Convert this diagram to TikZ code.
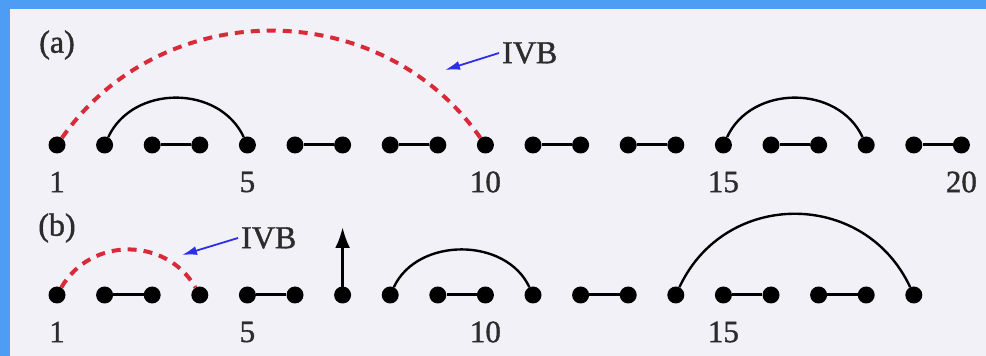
\documentclass[tikz,border=0pt]{standalone}
\usepackage{fontspec}
\setmainfont{Liberation Serif}
\newfontfamily\heavyserif[FakeBold=1.2]{Liberation Serif}
\usetikzlibrary{arrows.meta}
\definecolor{bgc}{HTML}{F3F1F8}
\definecolor{framec}{HTML}{4C9DF3}
\definecolor{ivbred}{HTML}{D92A3A}
\definecolor{ivbblue}{HTML}{2E2EEA}
\definecolor{txt}{HTML}{2C2C2C}
\tikzset{
  dot/.style={circle,fill=black,inner sep=0pt,minimum size=17pt},
  pairline/.style={line width=3pt},
  arcline/.style={line width=2.4pt},
  ivbarc/.style={ivbred,line width=4pt,dash pattern=on 9pt off 7pt},
  ivbarrow/.style={ivbblue,line width=1.8pt,-{Latex[length=15pt,width=9pt]}},
  uparrow/.style={line width=3pt,-{Latex[length=21pt,width=15pt]}},
  num/.style={text=txt,font=\heavyserif\fontsize{31}{33}\selectfont,inner sep=0pt},
  lbl/.style={text=txt,font=\heavyserif\fontsize{32}{34}\selectfont,inner sep=0pt}
}
\begin{document}
\begin{tikzpicture}[x=1pt,y=1pt]
\fill[bgc] (0,0) rectangle (986,356);
\fill[framec] (0,347) rectangle (986,356);
\fill[framec] (0,0) rectangle (10,356);
\useasboundingbox (0,0) rectangle (986,356);
% row (a)
\foreach \i in {1,...,20} \node[dot] (a\i) at ({57+(\i-1)*47.6},211) {};
\foreach \p/\q in {3/4,6/7,8/9,11/12,13/14,16/17,19/20} \draw[pairline] (a\p) -- (a\q);
\draw[arcline] (a2) to[out=65,in=115,looseness=1.1] (a5);
\draw[arcline] (a15) to[out=65,in=115,looseness=1.1] (a18);
\draw[ivbarc] (a1) to[out=55,in=125,looseness=1.07] (a10);
\foreach \i/\t in {1/1,5/5,10/10,15/15,20/20} \node[num] (na\i) at ([yshift=-37pt]a\i) {\t};
\node[lbl] (labA) at (57,311) {(a)};
\node[lbl,anchor=west] (ivbA) at (502,303) {IVB};
\coordinate (tipA) at (445,286);
\draw[ivbarrow] ([xshift=-3pt]ivbA.west) -- (tipA);
% row (b)
\foreach \i in {1,...,19} \node[dot] (b\i) at ({57+(\i-1)*47.6},61) {};
\foreach \p/\q in {2/3,5/6,9/10,12/13,15/16,17/18} \draw[pairline] (b\p) -- (b\q);
\draw[ivbarc] (b1) to[out=60,in=120,looseness=1.12] (b4);
\draw[arcline] (b8) to[out=65,in=115,looseness=1.05] (b11);
\draw[arcline] (b14) to[out=65,in=115,looseness=1.2] (b19);
\coordinate (upT) at ([yshift=68pt]b7.center);
\draw[uparrow] (b7.center) -- (upT);
\foreach \i/\t in {1/1,5/5,10/10,15/15} \node[num] (nb\i) at ([yshift=-37pt]b\i) {\t};
\node[lbl] (labB) at (57,128) {(b)};
\node[lbl,anchor=west] (ivbB) at (241,118) {IVB};
\coordinate (tipB) at (182,101);
\draw[ivbarrow] ([xshift=-3pt]ivbB.west) -- (tipB);
\end{tikzpicture}
\end{document}
